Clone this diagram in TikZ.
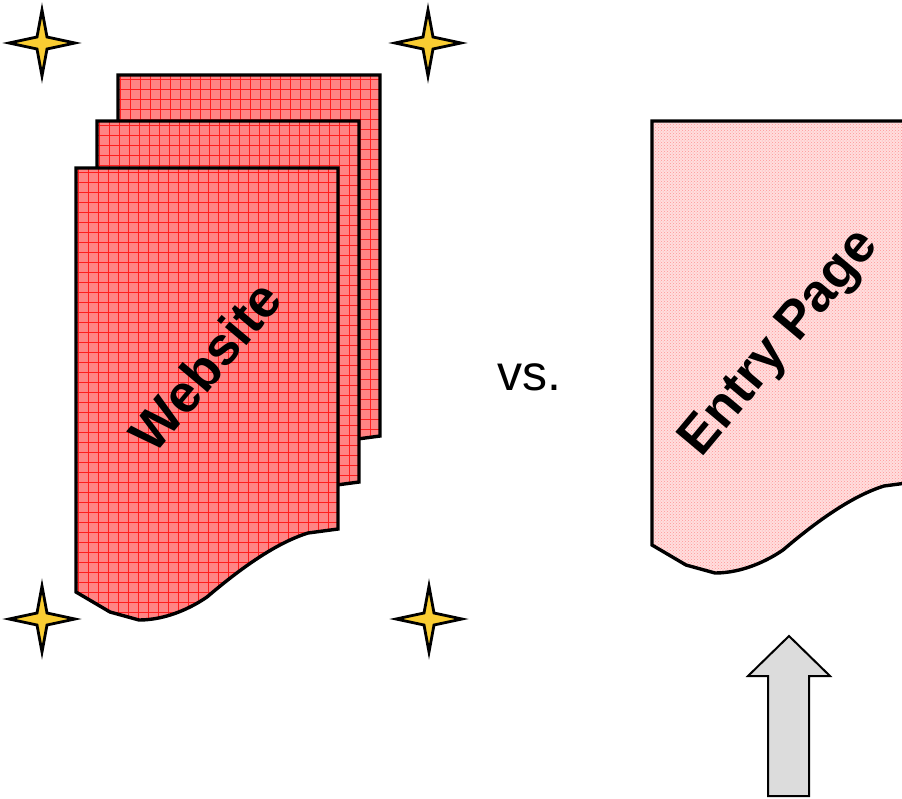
\documentclass[tikz,border=0pt]{standalone}
\usepackage{fontspec}
\setmainfont{Liberation Sans}
\usetikzlibrary{patterns}
\definecolor{pagered}{RGB}{255,132,132}
\definecolor{gridred}{RGB}{255,30,30}
\definecolor{palepink}{RGB}{255,222,222}
\definecolor{dotpink}{RGB}{255,150,150}
\definecolor{stargold}{RGB}{250,205,50}
\definecolor{arrowgray}{RGB}{220,220,220}
\newcommand\docshape{(0,0) -- (262,0) -- (262,361) -- (232,365) .. controls (200,375) and (165,400) .. (131,429) .. controls (115,440) and (90,452) .. (63,452) -- (34,444) -- (0,424) -- cycle}
\newcommand\starshape{(0,-33) -- (5,-6) -- (33,0) -- (5,6) -- (0,33) -- (-5,6) -- (-33,0) -- (-5,-6) -- cycle}
\newcommand\gridpage[2]{%
  \begin{scope}[shift={(#1,#2)}]
    \fill[pagered] \docshape;
    \begin{scope}
      \clip \docshape;
      \foreach \i in {2,12,...,272} \draw[gridred, line width=0.8pt] (\i,-5) -- (\i,460);
      \foreach \j in {4,14,...,464} \draw[gridred, line width=0.8pt] (-5,\j) -- (270,\j);
    \end{scope}
    \draw[outline] \docshape;
  \end{scope}}
\newcommand\drawstar[2]{%
  \begin{scope}[shift={(#1,#2)}]
    \draw[starstyle] \starshape;
  \end{scope}}
\tikzset{
  outline/.style={line width=3.4pt, line join=miter, black},
  starstyle/.style={fill=stargold, draw=black, line width=2.8pt, line join=miter, miter limit=6},
  bigtext/.style={font=\bfseries\fontsize{53}{53}\selectfont, inner sep=0pt},
}
\begin{document}
\begin{tikzpicture}[x=1pt,y=-1pt]
\useasboundingbox (0,0) rectangle (902,798);
\clip (0,0) rectangle (902,798);
% website stack
\gridpage{118}{75}
\gridpage{97}{121}
\gridpage{76}{168}
% entry page
\begin{scope}[shift={(652,121)}]
  \fill[palepink] \docshape;
  \fill[pattern=crosshatch dots, pattern color=dotpink] \docshape;
  \draw[outline] \docshape;
\end{scope}
% stars
\drawstar{42}{43}
\drawstar{428}{43}
\drawstar{42}{619}
\drawstar{429}{619}
% texts
\node[bigtext, rotate=50] (website) at (205,366) {Website};
\node[bigtext, rotate=50] (entry) at (781,344) {Entry Page};
\node[anchor=base, inner sep=0pt, font=\fontsize{50}{50}\selectfont] (vs) at (529,390) {vs.};
% arrow
\draw[fill=arrowgray, line width=2pt, line join=miter] (789,636) -- (830,676) -- (809,676) -- (809,796) -- (768,796) -- (768,676) -- (748,676) -- cycle;
\end{tikzpicture}
\end{document}
